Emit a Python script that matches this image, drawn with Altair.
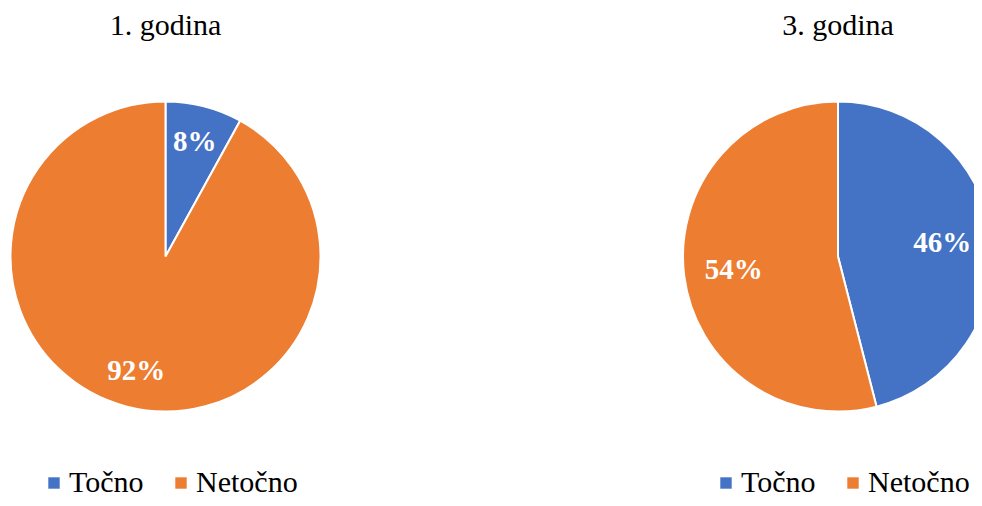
import altair as alt
import pandas as pd

years = ["1. godina", "3. godina"]
year_num = [1, 3]
categories = ["Točno", "Netočno"]
values_y1 = [8, 92]
values_y3 = [46, 54]
colors = ["#4472C4", "#ED7D31"]

rows = []
for yname, ynum, vals in zip(years, year_num, [values_y1, values_y3]):
    for i, (c, v) in enumerate(zip(categories, vals)):
        rows.append({"godina": yname, "gbr": ynum, "odgovor": c,
                     "postotak": v, "red": i, "oznaka": f"{v}%"})
df = pd.DataFrame(rows)

FONT = "'Liberation Serif', 'Times New Roman', serif"
xscale = alt.Scale(type="point", domain=year_num, range=[157.5, 830], padding=0)
cscale = alt.Scale(domain=categories, range=colors)


def pie(ynum, legend_x, label_r):
    base = alt.Chart(df).transform_filter(alt.datum.gbr == ynum)
    xenc = alt.X("gbr:O", scale=xscale, axis=None)
    arcs = base.mark_arc(radius=155, stroke="white", strokeWidth=2).encode(
        x=xenc,
        y=alt.value(248.5),
        theta=alt.Theta("postotak:Q", stack=True),
        order=alt.Order("red:Q"),
        color=alt.Color(
            "odgovor:N", scale=cscale,
            legend=alt.Legend(
                title=None, orient="none", legendX=legend_x, legendY=460,
                direction="horizontal", symbolType="square", symbolSize=130,
                symbolStrokeWidth=0, labelFont=FONT, labelFontSize=30,
                labelColor="black", labelOffset=0, columnPadding=22, padding=0,
            ),
        ),
    )
    labels = base.mark_text(radius=label_r, font=FONT, fontSize=29,
                            fontWeight="bold", color="white").encode(
        x=xenc,
        y=alt.value(248.5),
        theta=alt.Theta("postotak:Q", stack=True),
        order=alt.Order("red:Q"),
        text="oznaka:N",
    )
    title = base.transform_filter(alt.datum.red == 0).mark_text(
        font=FONT, fontSize=30, color="black", baseline="alphabetic"
    ).encode(x=xenc, y=alt.value(27), text="godina:N")
    return alt.layer(arcs, labels, title)


chart = alt.layer(pie(1, 31, 118), pie(3, 703, 105)).resolve_scale(
    color="independent"
).properties(
    width=966, height=490, padding=0,
    autosize=alt.AutoSizeParams(type="none"),
).configure_view(stroke=None)

chart.save("out.html", embed_options={"renderer": "svg", "actions": False})
